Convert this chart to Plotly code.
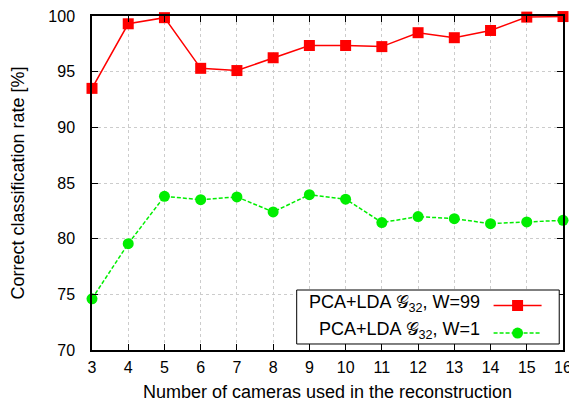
import plotly.graph_objects as go

cameras = [3, 4, 5, 6, 7, 8, 9, 10, 11, 12, 13, 14, 15, 16]
rate_w99 = [93.5, 99.3, 99.85, 95.3, 95.1, 96.25, 97.35, 97.35, 97.25, 98.5, 98.05, 98.7, 99.9, 99.95]
rate_w1 = [74.6, 79.55, 83.8, 83.5, 83.75, 82.4, 83.95, 83.55, 81.45, 81.98, 81.8, 81.35, 81.5, 81.65]
label_w99 = "PCA+LDA 𝒢<sub>32</sub>, W=99"
label_w1 = "PCA+LDA 𝒢<sub>32</sub>, W=1"
x_ticks = list(range(3, 17))
y_ticks = [70, 75, 80, 85, 90, 95, 100]

FONT = "Liberation Sans, Arial, sans-serif"
RED = "#ff0000"
GREEN = "#00ee00"

fig = go.Figure()
fig.add_trace(go.Scatter(
    x=cameras, y=rate_w99, mode="lines+markers", name="",
    line=dict(color=RED, width=1.5),
    marker=dict(symbol="square", size=11, color=RED),
    cliponaxis=False,
))
fig.add_trace(go.Scatter(
    x=cameras, y=rate_w1, mode="lines+markers", name="",
    line=dict(color=GREEN, width=1.5, dash="4px,2px"),
    marker=dict(symbol="circle", size=11, color=GREEN),
    cliponaxis=False,
))

axis_common = dict(
    showline=True, linecolor="black", linewidth=1.5, mirror="ticks",
    ticks="inside", ticklen=6, tickcolor="black", tickwidth=1,
    showgrid=True, gridcolor="#cccccc", griddash="dot", gridwidth=1,
    zeroline=False, automargin=False, ticklabeloverflow="allow",
    tickfont=dict(family=FONT, size=16, color="black"),
)

fig.update_xaxes(
    range=[3, 16], tickvals=x_ticks, ticklabelstandoff=2,
    title=dict(text="Number of cameras used in the reconstruction",
               font=dict(family=FONT, size=18, color="black"), standoff=22),
    **axis_common,
)
fig.update_yaxes(
    range=[70, 100], tickvals=y_ticks, ticklabelstandoff=12,
    title=dict(text="Correct classification rate [%]",
               font=dict(family=FONT, size=18, color="black"), standoff=28),
    **axis_common,
)

# legend box + texts
fig.add_shape(type="rect", xref="paper", yref="paper",
              x0=0.4346, x1=0.992, y0=0.018, y1=0.1796,
              line=dict(color="black", width=1), fillcolor="white", layer="above")
fig.add_annotation(xref="paper", yref="paper", x=0.827, y=0.1398, text=label_w99,
                   showarrow=False, xanchor="right", yanchor="middle",
                   font=dict(family=FONT, size=18, color="black"))
fig.add_annotation(xref="paper", yref="paper", x=0.827, y=0.0569, text=label_w1,
                   showarrow=False, xanchor="right", yanchor="middle",
                   font=dict(family=FONT, size=18, color="black"))

# page body has an 8px margin, so the figure is sized/offset to compensate
fig.update_layout(
    width=569, height=394, autosize=False,
    margin=dict(l=84, r=14, t=8, b=52, autoexpand=False),
    paper_bgcolor="white", plot_bgcolor="white",
    showlegend=True,
    legend=dict(x=0.842, y=0.190, xanchor="left", yanchor="top",
                bgcolor="rgba(0,0,0,0)", borderwidth=0,
                font=dict(family=FONT, size=19), itemwidth=48,
                tracegroupgap=0),
)

fig.write_html("out.html")
